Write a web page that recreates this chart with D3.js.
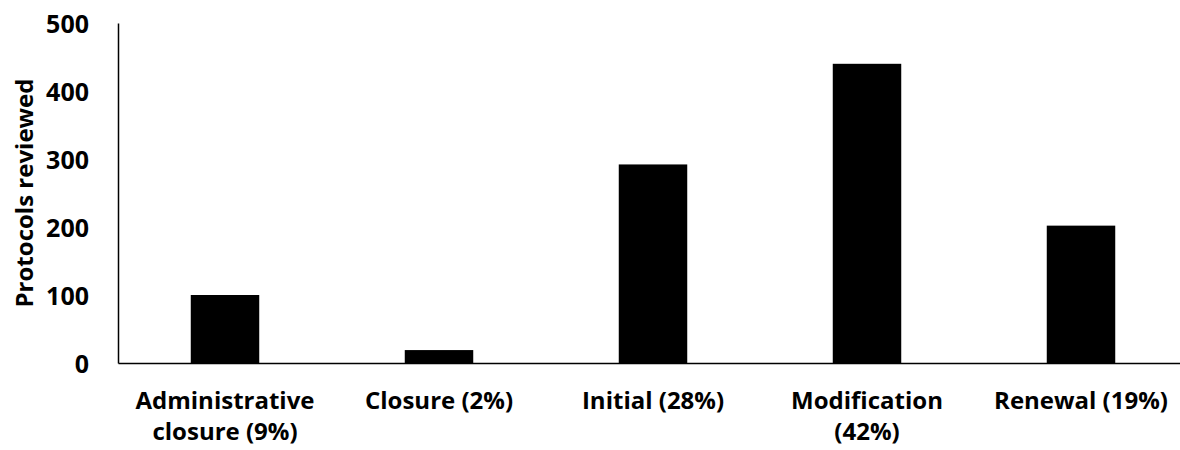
<!DOCTYPE html>
<html>
<head>
<meta charset="utf-8">
<script src="https://cdn.jsdelivr.net/npm/d3@7"></script>
<style>
  html, body { margin: 0; padding: 0; background: #fff; }
  svg { display: block; }
  text { font-family: "Open Sans", "Lato", sans-serif; font-weight: 700; fill: #000; }
</style>
</head>
<body>
<svg id="chart" width="1180" height="450"></svg>
<script>
// Protocol review counts by review type
const categories = [
  "Administrative\nclosure (9%)",
  "Closure (2%)",
  "Initial (28%)",
  "Modification\n(42%)",
  "Renewal (19%)"
];
const protocolsReviewed = [100, 19, 292, 440, 202];
const yTicks = [0, 100, 200, 300, 400, 500];
const yTitle = "Protocols reviewed";

const svg = d3.select("#chart");
const plotLeft = 118, plotRight = 1188, plotTop = 23, plotBottom = 363;

const x = d3.scaleBand()
  .domain(categories)
  .range([plotLeft, plotRight])
  .paddingInner(0.68)
  .paddingOuter(0.34);

const y = d3.scaleLinear()
  .domain([0, 500])
  .range([plotBottom, plotTop]);

// bars
svg.append("g")
  .selectAll("rect")
  .data(categories)
  .join("rect")
  .attr("x", d => x(d))
  .attr("width", x.bandwidth())
  .attr("y", (d, i) => y(protocolsReviewed[i]))
  .attr("height", (d, i) => y(0) - y(protocolsReviewed[i]))
  .attr("fill", "#000");

// y axis
const yAxis = svg.append("g")
  .attr("transform", `translate(${plotLeft},0)`)
  .call(d3.axisLeft(y).tickValues(yTicks).tickSize(0).tickPadding(29).tickFormat(d3.format("d")));
yAxis.select(".domain").attr("stroke", "#000").attr("stroke-width", 1.5);
yAxis.selectAll("text")
  .attr("font-size", 25)
  .attr("dy", "0.36em");

// x axis baseline and labels
const xAxis = svg.append("g")
  .attr("transform", `translate(0,${plotBottom})`)
  .call(d3.axisBottom(x).tickSize(0).tickFormat(""));
xAxis.select(".domain").attr("stroke", "#000").attr("stroke-width", 1.5);
xAxis.selectAll(".tick").each(function(d) {
  const t = d3.select(this).append("text")
    .attr("text-anchor", "middle")
    .attr("font-size", 24);
  d.split("\n").forEach((line, i) => {
    t.append("tspan").attr("x", 0).attr("y", 46 + i * 31).text(line);
  });
});

// y axis title
svg.append("text")
  .attr("transform", `translate(33,${(plotTop + plotBottom) / 2}) rotate(-90)`)
  .attr("text-anchor", "middle")
  .attr("font-size", 24)
  .text(yTitle);
</script>
</body>
</html>
